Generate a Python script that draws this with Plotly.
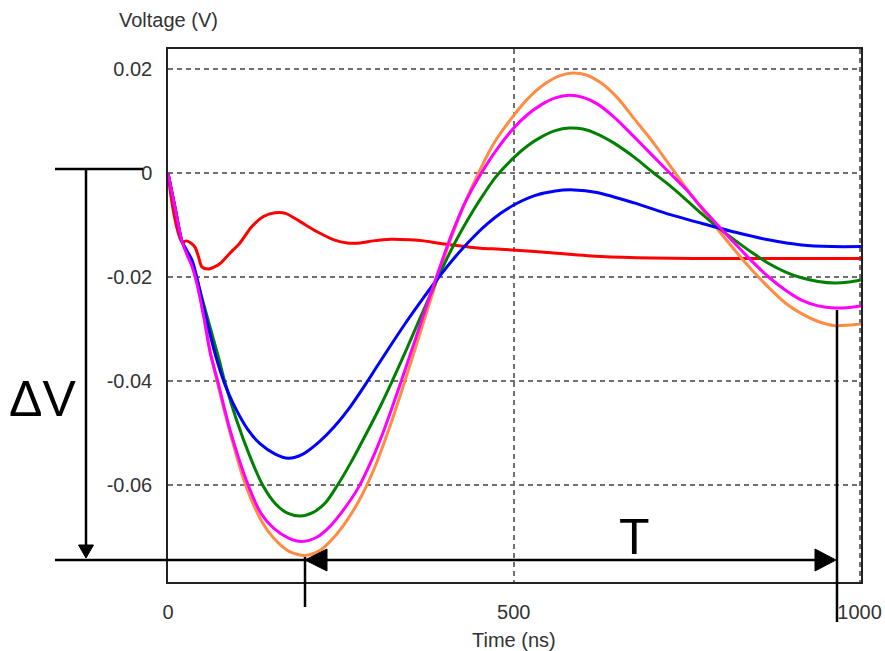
import plotly.graph_objects as go

# ---- data (time in ns, voltage in V) ----
t_orange = [0, 10, 20, 27, 35, 42, 52, 61, 71, 90, 111, 135, 153, 175, 198, 220, 240, 260, 280, 300, 320, 340, 362, 390, 410, 430, 448, 470, 498, 520, 545, 565, 585, 605, 625, 650, 674, 700, 723, 750, 771, 795, 819, 845, 868, 893, 916, 940, 964, 985, 1002]
v_orange = [0, -0.0065, -0.013, -0.0152, -0.0178, -0.021, -0.0275, -0.0343, -0.040, -0.050, -0.0595, -0.0668, -0.0702, -0.0727, -0.0735, -0.0725, -0.070, -0.0665, -0.062, -0.0562, -0.049, -0.041, -0.0318, -0.020, -0.0122, -0.0055, -0.0002, 0.0055, 0.0108, 0.0143, 0.0172, 0.0187, 0.0193, 0.0189, 0.0175, 0.0145, 0.0105, 0.0062, 0.002, -0.003, -0.0067, -0.0108, -0.0147, -0.0187, -0.0219, -0.025, -0.027, -0.0285, -0.0293, -0.0292, -0.029]

t_magenta = [0, 10, 20, 27, 35, 42, 52, 61, 72, 90, 116, 135, 153, 175, 194, 215, 235, 255, 275, 295, 312, 332, 360, 388, 410, 430, 453, 475, 500, 520, 540, 560, 580, 600, 620, 645, 674, 700, 723, 750, 771, 795, 819, 845, 868, 893, 916, 940, 964, 985, 1002]
v_magenta = [0, -0.0065, -0.013, -0.0155, -0.018, -0.0213, -0.0278, -0.0345, -0.040, -0.0495, -0.060, -0.0655, -0.0683, -0.0702, -0.0708, -0.070, -0.0678, -0.0645, -0.0605, -0.055, -0.0495, -0.042, -0.031, -0.020, -0.0118, -0.0055, 0.0, 0.0045, 0.0087, 0.0113, 0.0132, 0.0145, 0.015, 0.0146, 0.0134, 0.0108, 0.007, 0.0035, 0.0004, -0.0032, -0.0065, -0.010, -0.0134, -0.017, -0.0199, -0.0225, -0.0244, -0.0255, -0.0259, -0.0258, -0.0255]

t_green = [0, 10, 20, 27, 35, 42, 55, 74, 82, 100, 118, 137, 155, 172, 191, 210, 228, 245, 265, 287, 307, 322, 345, 368, 392, 415, 442, 457, 474, 500, 520, 540, 560, 580, 600, 620, 645, 674, 700, 723, 750, 771, 795, 819, 845, 868, 893, 916, 940, 964, 985, 1002]
v_green = [0, -0.0065, -0.013, -0.015, -0.0172, -0.0205, -0.0268, -0.0359, -0.040, -0.0478, -0.0543, -0.060, -0.0635, -0.0653, -0.0659, -0.0652, -0.0633, -0.060, -0.0555, -0.050, -0.0448, -0.0406, -0.0338, -0.0268, -0.0196, -0.0133, -0.007, -0.0039, -0.0007, 0.003, 0.0053, 0.007, 0.0082, 0.0087, 0.0085, 0.0076, 0.0058, 0.0031, 0.0003, -0.0021, -0.0052, -0.0077, -0.0104, -0.0128, -0.0153, -0.0173, -0.019, -0.0201, -0.0208, -0.0211, -0.0209, -0.0205]

t_blue = [0, 10, 20, 27, 35, 42, 55, 70, 82, 95, 115, 133, 155, 174, 195, 219, 240, 263, 286, 300, 320, 344, 368, 392, 417, 442, 462, 481, 500, 530, 560, 587, 620, 674, 720, 771, 819, 868, 916, 960, 1002]
v_blue = [0, -0.0065, -0.013, -0.0148, -0.0168, -0.0202, -0.0278, -0.0356, -0.0405, -0.0445, -0.0492, -0.052, -0.054, -0.0548, -0.054, -0.0516, -0.0488, -0.045, -0.0405, -0.0376, -0.0335, -0.0287, -0.0242, -0.0199, -0.0158, -0.0122, -0.0097, -0.0077, -0.0061, -0.0043, -0.0034, -0.0032, -0.0037, -0.0057, -0.0077, -0.0096, -0.0113, -0.0128, -0.0138, -0.0141, -0.0141]

t_red = [0, 5, 12, 20, 27, 33, 39, 44, 49, 58, 67, 75, 90, 104, 121, 138, 155, 170, 191, 215, 240, 259, 278, 297, 322, 350, 370, 394, 452, 481, 554, 626, 700, 800, 1002]
v_red = [0, -0.005, -0.010, -0.0132, -0.013, -0.0134, -0.0142, -0.016, -0.018, -0.0184, -0.018, -0.0174, -0.0153, -0.0134, -0.0103, -0.0083, -0.0076, -0.0077, -0.0093, -0.0112, -0.0128, -0.0134, -0.0134, -0.013, -0.0127, -0.0128, -0.013, -0.0135, -0.0144, -0.0146, -0.0153, -0.016, -0.0163, -0.0164, -0.0164]

y_tickvals = [0.02, 0, -0.02, -0.04, -0.06]
y_ticktext = ["0.02", "0", "-0.02", "-0.04", "-0.06"]
x_tickvals = [0, 500, 1000]
x_ticktext = ["0", "500", "1000"]

series = [
    (t_red, v_red, "#FF0000"),
    (t_orange, v_orange, "#FF8C42"),
    (t_green, v_green, "#008000"),
    (t_blue, v_blue, "#0000FF"),
    (t_magenta, v_magenta, "#FF00FF"),
]

fig = go.Figure()
for tx, vy, col in series:
    fig.add_trace(go.Scatter(x=tx, y=vy, mode="lines",
                             line=dict(color=col, width=3, shape="spline", smoothing=0.8),
                             showlegend=False, hoverinfo="skip"))

# plot area in pixels
L, R, T, B = 168, 861, 49, 582
W, H = R - L, B - T

def X(px):
    return (px - L) / W

def Y(py):
    return (B - py) / H

font_fam = "Liberation Sans, Arial, sans-serif"
lc = "black"
lw = 2.5
shapes = []

def line(x0, y0, x1, y1):
    shapes.append(dict(type="line", xref="paper", yref="paper",
                       x0=X(x0), y0=Y(y0), x1=X(x1), y1=Y(y1),
                       line=dict(color=lc, width=lw)))

def tri(pts):
    d = "M " + " L ".join(f"{X(a)},{Y(b)}" for a, b in pts) + " Z"
    shapes.append(dict(type="path", xref="paper", yref="paper", path=d,
                       fillcolor=lc, line=dict(color=lc, width=1)))

# Delta V arrow
line(55, 169, 143, 169)
line(86, 169, 86, 547)
tri([(86, 558), (78.5, 545), (93.5, 545)])
# T arrow
line(55, 560, 822, 560)
tri([(305, 560), (327, 549), (327, 571)])
tri([(836, 560), (815, 549), (815, 571)])
line(305, 557, 305, 607)
line(837, 310, 837, 622)

annotations = [
    dict(text="Voltage (V)", x=X(117), y=Y(20), xref="paper", yref="paper",
         xanchor="left", yanchor="middle", showarrow=False,
         font=dict(family=font_fam, size=20, color="#333333")),
    dict(text="Time (ns)", x=X(514), y=Y(640), xref="paper", yref="paper",
         xanchor="center", yanchor="middle", showarrow=False,
         font=dict(family=font_fam, size=20, color="#333333")),
    dict(text="ΔV", x=X(42), y=Y(399), xref="paper", yref="paper",
         xanchor="center", yanchor="middle", showarrow=False,
         font=dict(family=font_fam, size=50, color="black")),
    dict(text="T", x=X(634.5), y=Y(537), xref="paper", yref="paper",
         xanchor="center", yanchor="middle", showarrow=False,
         font=dict(family=font_fam, size=50, color="black")),
]

fig.update_layout(
    width=885, height=651, autosize=False,
    margin=dict(l=L, r=885 - R, t=T, b=651 - B, pad=0),
    paper_bgcolor="white", plot_bgcolor="white",
    shapes=shapes, annotations=annotations,
    showlegend=False,
)
fig.update_xaxes(range=[0, 1002], tickvals=x_tickvals, ticktext=x_ticktext,
                 showgrid=True, gridcolor="#707070", griddash="5px,4px", gridwidth=1.5,
                 showline=True, linecolor="#222222", linewidth=1.5, mirror=True,
                 ticks="", ticklabelstandoff=11, zeroline=False, automargin=False,
                 tickfont=dict(family=font_fam, size=20, color="#333333"))
fig.update_yaxes(range=[-0.0786, 0.0239], tickvals=y_tickvals, ticktext=y_ticktext,
                 showgrid=True, gridcolor="#707070", griddash="5px,4px", gridwidth=1.5,
                 showline=True, linecolor="#222222", linewidth=1.5, mirror=True,
                 ticks="", ticklabelstandoff=10, zeroline=False, automargin=False,
                 tickfont=dict(family=font_fam, size=20, color="#333333"))

fig.write_html("out.html")
